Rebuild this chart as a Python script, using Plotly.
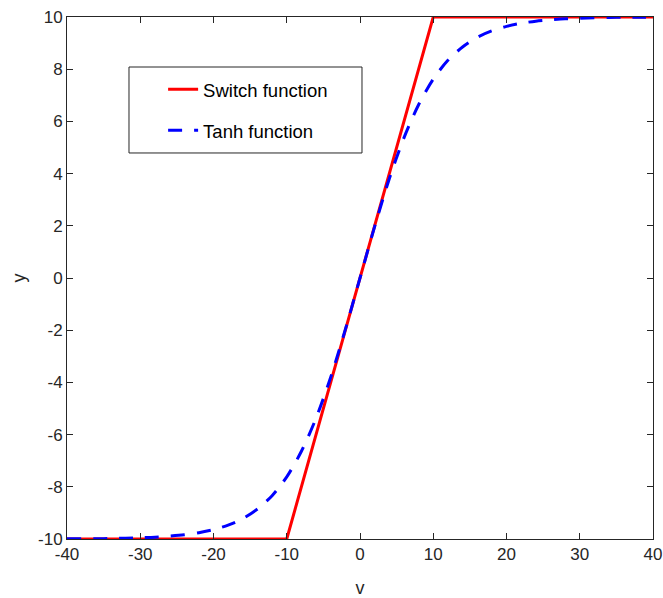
import plotly.graph_objects as go

# Switch function: saturating linear ramp (breakpoints)
switch_v = [-40, -10, 10, 40]
switch_y = [-10, -10, 10, 10]

# Tanh function samples
tanh_v = [-40, -38, -36, -34, -32, -30, -28, -26, -24, -22, -20, -18, -16, -14,
          -12, -10, -8, -6, -4, -2, 0, 2, 4, 6, 8, 10, 12, 14, 16, 18, 20, 22,
          24, 26, 28, 30, 32, 34, 36, 38, 40]
tanh_y = [-9.99, -9.99, -9.99, -9.98, -9.97, -9.95, -9.93, -9.89, -9.84, -9.76,
          -9.64, -9.47, -9.22, -8.85, -8.34, -7.62, -6.64, -5.37, -3.80, -1.97,
          0.0, 1.97, 3.80, 5.37, 6.64, 7.62, 8.34, 8.85, 9.22, 9.47, 9.64, 9.76,
          9.84, 9.89, 9.93, 9.95, 9.97, 9.98, 9.99, 9.99, 9.99]

x_ticks = [-40, -30, -20, -10, 0, 10, 20, 30, 40]
y_ticks = [-10, -8, -6, -4, -2, 0, 2, 4, 6, 8, 10]

FONT = "Liberation Sans, Arial, Helvetica, sans-serif"
AX = "#262626"

fig = go.Figure()
fig.add_trace(go.Scatter(
    x=switch_v, y=switch_y, mode="lines", name="Switch function",
    legendgroup="a", line=dict(color="#ff0000", width=3),
))
fig.add_trace(go.Scatter(
    x=tanh_v, y=tanh_y, mode="lines", name="Tanh function",
    legendgroup="b", line=dict(color="#0000ff", width=3, dash="14px,12px",
                               shape="spline", smoothing=0.8),
))

axis_common = dict(
    showgrid=False, zeroline=False, showline=True, linecolor=AX, linewidth=1,
    mirror="ticks", ticks="inside", ticklen=6, tickcolor=AX, tickwidth=1,
    tickfont=dict(family=FONT, size=17, color=AX), automargin=False,
)

fig.update_xaxes(range=[-40, 40], tickvals=x_ticks,
                 ticktext=[str(t) for t in x_ticks],
                 title=dict(text="v", font=dict(family=FONT, size=18, color=AX),
                            standoff=22),
                 **axis_common)
fig.update_yaxes(range=[-10, 10], tickvals=y_ticks,
                 ticktext=[str(t) for t in y_ticks],
                 title=dict(text="y", font=dict(family=FONT, size=18, color=AX),
                            standoff=7),
                 **axis_common)

# legend frame
fig.add_shape(type="rect", xref="paper", yref="paper",
              x0=0.1058, x1=0.5034, y0=0.7395, y1=0.9042,
              line=dict(color=AX, width=1), fillcolor="white", layer="below")

fig.update_layout(
    width=663, height=598,
    margin=dict(l=67, r=10, t=17, b=59),
    paper_bgcolor="white", plot_bgcolor="white",
    font=dict(family=FONT, size=16, color="#000000"),
    showlegend=True,
    legend=dict(x=0.164, y=0.897, xanchor="left", yanchor="top",
                bgcolor="rgba(0,0,0,0)", borderwidth=0,
                tracegroupgap=14, traceorder="grouped",
                font=dict(family=FONT, size=18.5, color="#000000")),
)

fig.write_html("out.html")
